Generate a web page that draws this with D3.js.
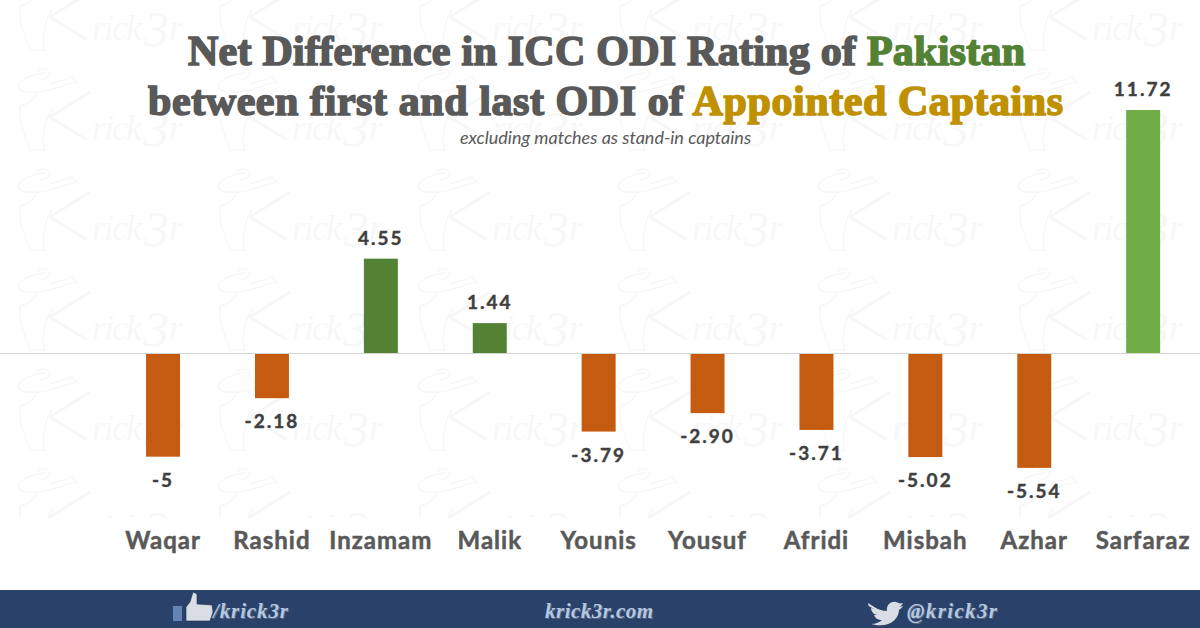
<!DOCTYPE html>
<html>
<head>
<meta charset="utf-8">
<script src="https://cdn.jsdelivr.net/npm/d3@7"></script>
<style>
  html, body { margin: 0; padding: 0; background: #fff; }
  svg { display: block; }
</style>
</head>
<body>
<svg id="chart" width="1200" height="628"></svg>
<script>
const captains = ["Waqar", "Rashid", "Inzamam", "Malik", "Younis", "Yousuf", "Afridi", "Misbah", "Azhar", "Sarfaraz"];
const ratingDiff = [-5, -2.18, 4.55, 1.44, -3.79, -2.90, -3.71, -5.02, -5.54, 11.72];
const diffLabels = ["-5", "-2.18", "4.55", "1.44", "-3.79", "-2.90", "-3.71", "-5.02", "-5.54", "11.72"];

const width = 1200;
const height = 628;
const svg = d3.select("#chart");

const x = d3.scaleBand().domain(captains).range([108.6, 1197.6]).paddingInner(0.688).paddingOuter(0.344);
const y = d3.scaleLinear().domain([-6, 12]).range([477.4, 104.2]);

// watermark tile
const defs = svg.append("defs");
const tile = defs.append("pattern")
  .attr("id", "wm")
  .attr("patternUnits", "userSpaceOnUse")
  .attr("x", 0).attr("y", 60)
  .attr("width", 200).attr("height", 100);
const wm = tile.append("g").attr("fill", "none").attr("stroke", "#f7f7f7").attr("stroke-width", 1.4);
wm.append("path").attr("d", "M46 13C32 14 18 20 18 27C20 33 34 34 50 30L76 22L72 17L50 24M38 12C40 8 48 8 50 13C50 17 46 20 40 20M20 46C18 60 24 74 30 90L44 90C42 74 44 62 52 50M36 34C34 40 28 44 20 46");
wm.append("path").attr("d", "M90 32L50 57L87 80").attr("stroke-width", 3);
const wmText = wm.append("text").attr("x", 92).attr("y", 80)
  .attr("font-family", "Liberation Serif").attr("font-style", "italic").attr("font-size", 36)
  .attr("fill", "#f7f7f7").attr("stroke", "none");
wmText.append("tspan").attr("textLength", 50).text("rick");
wmText.append("tspan").attr("dx", 4).attr("font-size", 50).attr("dy", 6).text("3");
wmText.append("tspan").attr("dy", -6).text("r");
svg.append("rect").attr("width", width).attr("height", 518).attr("fill", "url(#wm)");

// bars
const barColor = (d, i) => d < 0 ? "#c55a11" : (i === 9 ? "#70ad47" : "#548235");
svg.selectAll("rect.bar").data(ratingDiff).enter().append("rect")
  .attr("class", "bar")
  .attr("x", (d, i) => x(captains[i]))
  .attr("width", x.bandwidth())
  .attr("y", (d) => y(Math.max(d, 0)))
  .attr("height", (d) => Math.abs(y(d) - y(0)))
  .attr("fill", barColor);

// zero line
svg.append("line").attr("x1", 0).attr("x2", width).attr("y1", y(0) + 0.5).attr("y2", y(0) + 0.5)
  .attr("stroke", "#d4d4d4").attr("stroke-width", 1);

// value labels
svg.selectAll("text.val").data(ratingDiff).enter().append("text")
  .attr("class", "val")
  .attr("x", (d, i) => x(captains[i]) + x.bandwidth() / 2)
  .attr("y", (d) => d < 0 ? y(d) + 30 : y(d) - 14)
  .attr("text-anchor", "middle")
  .attr("font-family", "Lato").attr("font-weight", 700).attr("font-size", 19)
  .attr("letter-spacing", 2).attr("fill", "#404040")
  .attr("stroke", "#404040").attr("stroke-width", 0.4)
  .text((d, i) => diffLabels[i]);

// captain names
svg.selectAll("text.cat").data(captains).enter().append("text")
  .attr("class", "cat")
  .attr("x", (d) => x(d) + x.bandwidth() / 2)
  .attr("y", 549)
  .attr("text-anchor", "middle")
  .attr("font-family", "Lato").attr("font-weight", 700).attr("font-size", 24)
  .attr("letter-spacing", 1).attr("fill", "#595959")
  .attr("stroke", "#595959").attr("stroke-width", 0.5)
  .text((d) => d);

// title
const title = svg.append("g").attr("font-family", "Liberation Serif").attr("font-weight", 700)
  .attr("font-size", 42).attr("fill", "#595959")
  .attr("stroke-width", 1.6);
const line1 = title.append("text").attr("x", 188).attr("y", 65).attr("stroke", "#595959")
  .attr("textLength", 837);
line1.append("tspan").text("Net Difference in ICC ODI Rating of ");
line1.append("tspan").attr("fill", "#548235").attr("stroke", "#548235").text("Pakistan");
const line2 = title.append("text").attr("x", 148).attr("y", 115).attr("stroke", "#595959")
  .attr("textLength", 915);
line2.append("tspan").text("between first and last ODI of ");
line2.append("tspan").attr("fill", "#bf9000").attr("stroke", "#bf9000").text("Appointed Captains");

svg.append("text").attr("x", 605.5).attr("y", 144).attr("text-anchor", "middle")
  .attr("font-family", "Lato").attr("font-style", "italic").attr("font-size", 18)
  .attr("fill", "#595959").text("excluding matches as stand-in captains");

// footer
svg.append("rect").attr("y", 590).attr("width", width).attr("height", 38).attr("fill", "#2a4169");
const footer = svg.append("g").attr("font-family", "Liberation Serif").attr("font-weight", 700)
  .attr("font-style", "italic").attr("font-size", 21).attr("fill", "#b4c8e2")
  .style("text-shadow", "1px 1px 0 #5b6b85");
footer.append("text").attr("x", 213).attr("y", 618).attr("textLength", 75).text("/krick3r");
footer.append("text").attr("x", 545).attr("y", 618).attr("textLength", 108).text("krick3r.com");
footer.append("text").attr("x", 907).attr("y", 618).attr("textLength", 90).text("@krick3r");

// thumb icon
svg.append("rect").attr("x", 173).attr("y", 606).attr("width", 9).attr("height", 15).attr("fill", "#6384b3");
svg.append("path").attr("d", "M186 607L190 602L193 592L197 594L197 604L212 605L213 612L210 621L186 621Z").attr("fill", "#d9dde6").attr("stroke", "#1f3050").attr("stroke-width", 0.6);
// bird icon
svg.append("path").attr("d", "M868 603C875 608 881 611 887 611C886 605 891 601 896 602C899 603 900 604 903 603C902 605 901 606 899 607L903 606C902 608 900 609 899 610C899 619 889 629 871 624C876 624 880 622 882 620C878 620 875 618 874 615L877 615C873 614 871 611 871 608L874 609C871 607 868 607 868 603Z").attr("fill", "#d9dde6");
</script>
</body>
</html>
